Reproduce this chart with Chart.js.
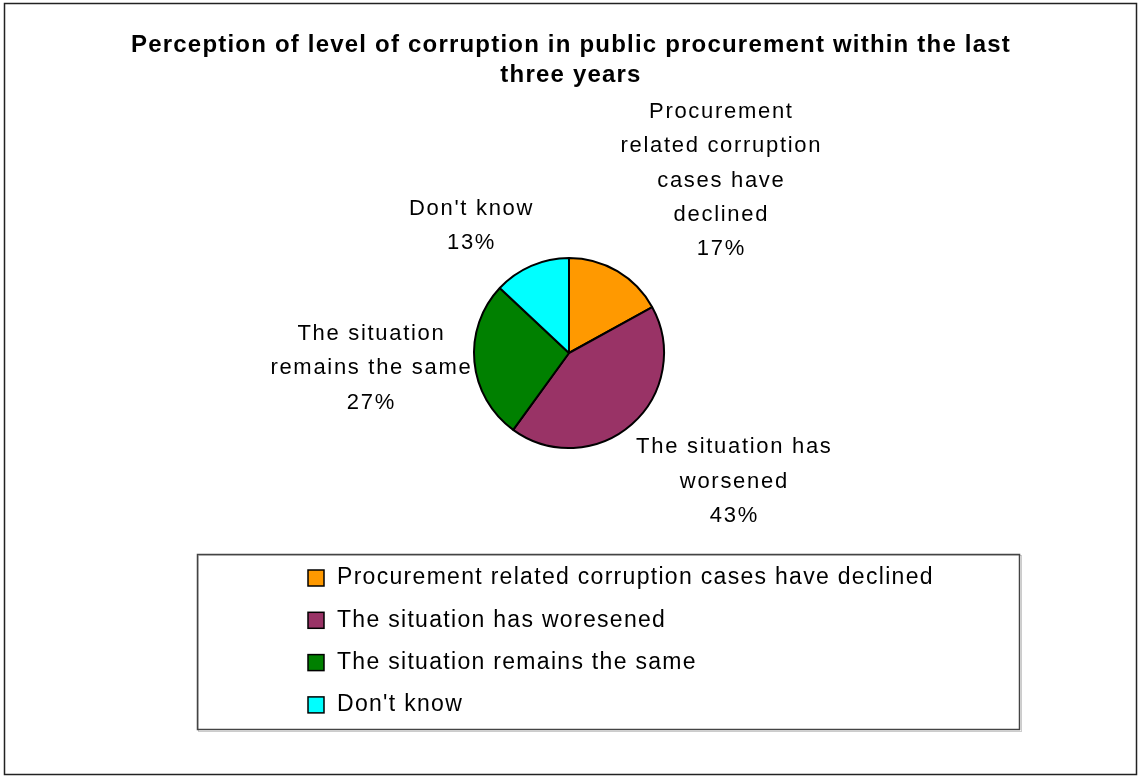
<!DOCTYPE html>
<html>
<head>
<meta charset="utf-8">
<script src="https://cdn.jsdelivr.net/npm/chart.js@4/dist/chart.umd.min.js"></script>
<style>
  body { margin: 0; background: #fff; }
  canvas { display: block; }
</style>
</head>
<body>
<canvas id="pieChart" width="1138" height="776"></canvas>
<script>
// data
const titleLines = ["Perception of level of corruption in public procurement within the last", "three years"];
const categories = [
  "Procurement related corruption cases have declined",
  "The situation has woresened",
  "The situation remains the same",
  "Don't know"
];
// wording used next to the slices
const sliceLabels = [
  ["Procurement", "related corruption", "cases have", "declined"],
  ["The situation has", "worsened"],
  ["The situation", "remains the same"],
  ["Don't know"]
];
const shares = [17, 43, 27, 13];
const colors = ["#FF9900", "#993366", "#008000", "#00FFFF"];

const FONT = "'Liberation Sans', Arial, sans-serif";

// draws frame, title, slice labels and the boxed legend
const decorations = {
  id: "decorations",
  beforeDraw(chart) {
    const ctx = chart.ctx;
    ctx.save();
    ctx.fillStyle = "#fff";
    ctx.fillRect(0, 0, chart.width, chart.height);
    ctx.restore();
  },
  afterDraw(chart) {
    const ctx = chart.ctx;
    ctx.save();

    // outer frame
    ctx.strokeStyle = "#222";
    ctx.lineWidth = 1.5;
    ctx.strokeRect(4.5, 3.5, 1132, 771);

    // title
    ctx.fillStyle = "#000";
    ctx.font = "bold 24px " + FONT;
    ctx.letterSpacing = "1.2px";
    ctx.textAlign = "center";
    ctx.textBaseline = "middle";
    titleLines.forEach((t, i) => ctx.fillText(t, 571, 45 + i * 30));

    // labels outside the slices
    const arcs = chart.getDatasetMeta(0).data;
    const lh = 34.3;
    ctx.font = "22px " + FONT;
    ctx.letterSpacing = "1.7px";
    arcs.forEach((arc, i) => {
      const mid = (arc.startAngle + arc.endAngle) / 2;
      const ux = Math.cos(mid), uy = Math.sin(mid);
      const side = Math.abs(uy) < 0.25;
      const R = arc.outerRadius + (side ? 4 : 8);
      const ax = arc.x + ux * R;
      const ay = arc.y + uy * R;
      const lines = sliceLabels[i].concat([shares[i] + "%"]);
      const w = Math.max(...lines.map(l => ctx.measureText(l).width));
      const h = lines.length * lh;
      const left = ux > 0.25 ? ax - 1 : (ux < -0.25 ? ax - w + (side ? 2 : 6) : ax - w / 2);
      const top = uy < -0.25 ? ay - h + 2 : (uy > 0.25 ? ay : ay - h / 2 + 6);
      lines.forEach((l, k) => ctx.fillText(l, left + w / 2, top + lh * (k + 0.5)));
    });

    // legend box
    ctx.letterSpacing = "0px";
    ctx.strokeStyle = "#ccc";
    ctx.lineWidth = 1;
    ctx.strokeRect(198.5, 555.5, 823, 176);
    ctx.strokeStyle = "#444";
    ctx.lineWidth = 1.5;
    ctx.strokeRect(197.5, 554.5, 822, 175);

    ctx.textAlign = "left";
    ctx.font = "23px " + FONT;
    ctx.letterSpacing = "1.3px";
    categories.forEach((c, i) => {
      const cy = 578 + i * 42.3;
      ctx.fillStyle = colors[i];
      ctx.fillRect(308, cy - 8, 16, 16);
      ctx.strokeStyle = "#000";
      ctx.lineWidth = 1.5;
      ctx.strokeRect(308, cy - 8, 16, 16);
      ctx.fillStyle = "#000";
      ctx.fillText(c, 337, cy);
    });

    ctx.restore();
  }
};

new Chart(document.getElementById("pieChart"), {
  type: "pie",
  data: {
    labels: categories,
    datasets: [{
      data: shares,
      backgroundColor: colors,
      borderColor: "#000",
      borderWidth: 2
    }]
  },
  options: {
    responsive: false,
    animation: false,
    events: [],
    layout: { padding: { left: 473, right: 473, top: 257, bottom: 327 } },
    plugins: {
      legend: { display: false },
      title: { display: false },
      tooltip: { enabled: false }
    }
  },
  plugins: [decorations]
});
</script>
</body>
</html>
